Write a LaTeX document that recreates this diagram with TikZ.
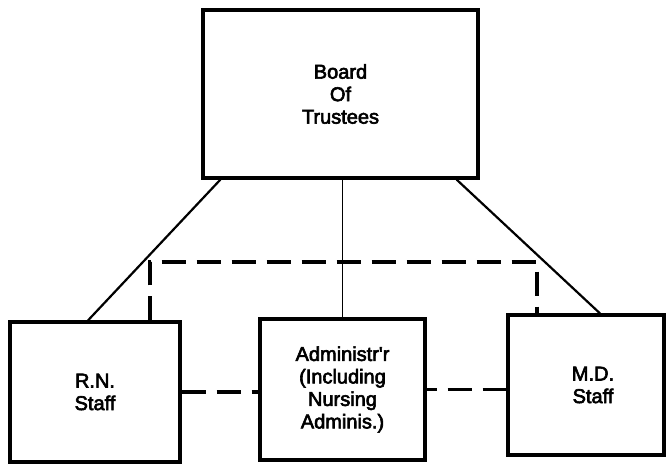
\documentclass[tikz,border=0pt]{standalone}
\usepackage{fontspec}
\setmainfont[FakeBold=3]{Liberation Sans}
\usetikzlibrary{calc}
\begin{document}
\begin{tikzpicture}[x=1pt,y=-1pt,
  boxnode/.style={draw, line width=3.2pt, align=center, inner sep=0pt,
    font=\fontsize{20}{22.5}\selectfont},
  solidline/.style={line width=2.2pt},
  thinline/.style={line width=1.6pt},
  dashline/.style={line width=3.2pt, dash pattern=on 24pt off 11pt}]
\useasboundingbox (0,0) rectangle (668,466);
\node[boxnode, minimum width=275pt, minimum height=168pt] (board) at (340.5,94) {Board\\Of\\Trustees};
\node[boxnode, minimum width=170pt, minimum height=140pt] (rn) at (95,392) {R.N.\\Staff};
\node[boxnode, minimum width=165pt, minimum height=141pt] (admin) at (342.5,389.5) {Administr\textquotesingle r\\(Including\\Nursing\\Adminis.)};
\node[boxnode, minimum width=156pt, minimum height=140pt, text width=150pt] (md) at (586,385) {\hspace*{14pt}M.D.\\\hspace*{14pt}Staff};
\coordinate (bl) at ([xshift=19pt]board.south west);
\coordinate (br) at ([xshift=-23pt]board.south east);
\coordinate (rnt) at ([xshift=-7pt]rn.north);
\coordinate (mdt) at ([xshift=14pt]md.north);
\draw[solidline] (bl) -- (rnt);
\draw[solidline] (br) -- (mdt);
\draw[thinline] (admin.north) -- (admin.north |- board.south);
\coordinate (dtop) at (340,262);
\coordinate (dl) at ([xshift=55pt]rn.north);
\coordinate (dr) at ([xshift=-49pt]md.north);
\draw[dashline] (dl) |- (dtop) -| (dr);
\draw[dashline] (rn.east) -- (rn.east -| admin.west);
\draw[dashline, dash phase=14pt] (admin.east) -- (admin.east -| md.west);
\end{tikzpicture}
\end{document}
